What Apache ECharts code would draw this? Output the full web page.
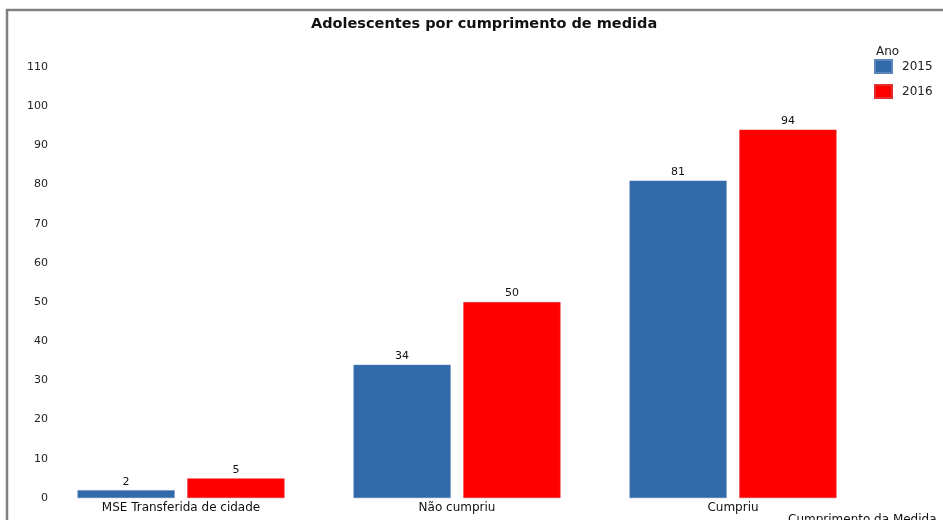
<!DOCTYPE html>
<html>
<head>
<meta charset="utf-8">
<script src="https://cdn.jsdelivr.net/npm/echarts@6/dist/echarts.min.js"></script>
<style>
  html, body { margin: 0; padding: 0; background: #fff; }
  #chart { width: 943px; height: 520px; }
</style>
</head>
<body>
<div id="chart"></div>
<script>
// Adolescents by measure completion, 2015 vs 2016
const categories = ['MSE Transferida de cidade', 'Não cumpriu', 'Cumpriu'];
const values2015 = [2, 34, 81];
const values2016 = [5, 50, 94];
const seriesNames = ['2015', '2016'];

const FONT = '"DejaVu Sans", "Liberation Sans", Arial, sans-serif';
const chart = echarts.init(document.getElementById('chart'), null, { renderer: 'canvas' });

const labelStyle = {
  show: true,
  position: 'top',
  distance: 3,
  color: '#111',
  fontFamily: FONT,
  fontSize: 11
};

chart.setOption({
  animation: false,
  backgroundColor: '#fff',
  title: {
    text: 'Adolescentes por cumprimento de medida',
    left: 306,
    top: 12,
    textStyle: { fontFamily: FONT, fontSize: 14.5, fontWeight: 'bold', color: '#111' }
  },
  legend: {
    orient: 'vertical',
    left: 869,
    top: 54,
    itemWidth: 17,
    itemHeight: 13,
    itemGap: 10,
    icon: 'rect',
    textStyle: { fontFamily: FONT, fontSize: 12, color: '#222', padding: [0, 0, 0, 5] },
    data: seriesNames
  },
  grid: { left: 43, right: 72, top: 67, bottom: 22, containLabel: false },
  xAxis: {
    type: 'category',
    data: categories,
    axisLine: { show: false },
    axisTick: { show: false },
    axisLabel: { color: '#111', fontFamily: FONT, fontSize: 12, margin: 4 }
  },
  yAxis: {
    type: 'value',
    min: 0,
    max: 110,
    interval: 10,
    splitLine: { show: false },
    axisLine: { show: false },
    axisTick: { show: false },
    axisLabel: { color: '#222', fontFamily: FONT, fontSize: 11, margin: -5 }
  },
  series: [
    {
      name: seriesNames[0],
      type: 'bar',
      data: values2015,
      barCategoryGap: '25%',
      barGap: '13%',
      itemStyle: { color: '#3169a9', borderColor: '#5a86bb', borderWidth: 0.5 },
      label: labelStyle
    },
    {
      name: seriesNames[1],
      type: 'bar',
      data: values2016,
      itemStyle: { color: '#ff0000', borderColor: '#e03030', borderWidth: 0.5 },
      label: labelStyle
    }
  ],
  graphic: [
    {
      type: 'text',
      left: 876,
      top: 46,
      style: { text: 'Ano', fontFamily: FONT, fontSize: 12, fill: '#222' }
    },
    {
      type: 'text',
      left: 788,
      top: 514,
      style: { text: 'Cumprimento da Medida', fontFamily: FONT, fontSize: 12, fill: '#111' }
    },
    {
      type: 'polyline',
      shape: { points: [[7, 520], [7, 10], [943, 10]] },
      style: { stroke: '#808080', lineWidth: 2.5, fill: null }
    }
  ]
});
</script>
</body>
</html>
